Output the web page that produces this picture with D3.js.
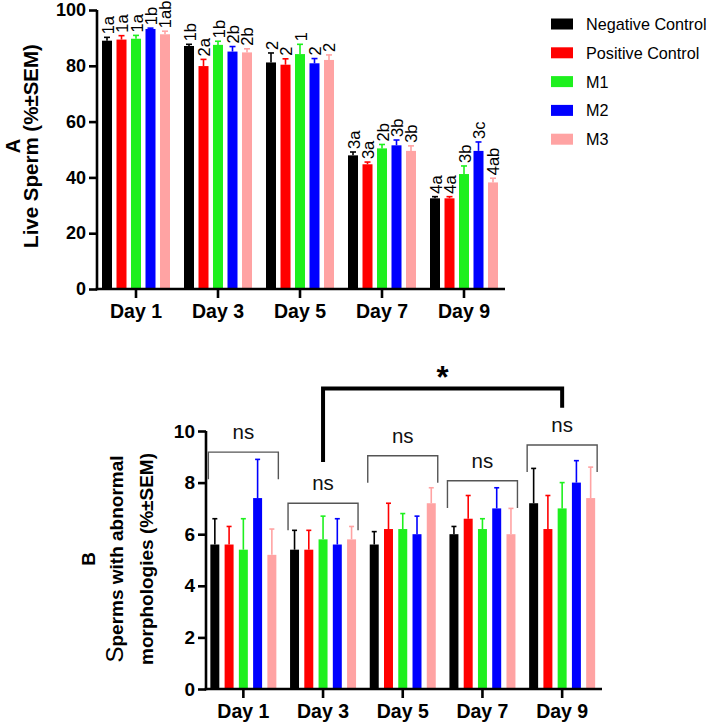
<!DOCTYPE html>
<html><head><meta charset="utf-8">
<script src="https://cdn.jsdelivr.net/npm/d3@7"></script>
<style>
html,body{margin:0;padding:0;background:#fff;}
svg{display:block;font-family:"Liberation Sans",Arial,Helvetica,sans-serif;}
</style></head>
<body>
<svg id="chart" width="711" height="725"></svg>
<script>
// ---------- data ----------
const days = ["Day 1","Day 3","Day 5","Day 7","Day 9"];
const groups = ["Negative Control","Positive Control","M1","M2","M3"];
const colors = ["#000000","#ff0000","#1ef01e","#0000ff","#ffa3a3"];

// Live sperm (% ± SEM), one array per group, values per day
const liveNeg = [89.0, 87.1, 81.2, 47.9, 32.5];
const livePos = [89.4, 79.9, 80.4, 44.7, 32.5];
const liveM1  = [89.7, 87.5, 84.2, 50.4, 41.2];
const liveM2  = [93.2, 85.1, 80.9, 51.5, 49.5];
const liveM3  = [91.3, 84.8, 82.1, 49.5, 38.2];
const liveSemNeg = [1.2, 0.6, 3.4, 1.2, 0.6];
const liveSemPos = [1.4, 2.4, 2.1, 0.8, 0.6];
const liveSemM1  = [1.2, 1.3, 3.5, 1.4, 2.9];
const liveSemM2  = [0.3, 1.8, 1.7, 1.9, 3.2];
const liveSemM3  = [1.1, 1.3, 1.8, 1.8, 1.5];
const liveLblNeg = ["1a","1b","2","3a","4a"];
const liveLblPos = ["1a","2a","2","3a","4a"];
const liveLblM1  = ["1a","1b","1","2b","3b"];
const liveLblM2  = ["1b","2b","2","3b","3c"];
const liveLblM3  = ["1ab","2b","2","3b","4ab"];
const liveTicks = [0,20,40,60,80,100];

// Abnormal morphologies (% ± SEM)
const abnNeg = [5.6, 5.4, 5.6, 6.0, 7.2];
const abnPos = [5.6, 5.4, 6.2, 6.6, 6.2];
const abnM1  = [5.4, 5.8, 6.2, 6.2, 7.0];
const abnM2  = [7.4, 5.6, 6.0, 7.0, 8.0];
const abnM3  = [5.2, 5.8, 7.2, 6.0, 7.4];
const abnSemNeg = [1.0, 0.75, 0.5, 0.3, 1.35];
const abnSemPos = [0.7, 0.75, 1.0, 0.9, 1.3];
const abnSemM1  = [1.2, 0.9, 0.6, 0.4, 1.0];
const abnSemM2  = [1.5, 1.0, 0.7, 0.8, 0.85];
const abnSemM3  = [1.0, 0.5, 0.6, 1.0, 1.2];
const abnTicks = [0,2,4,6,8,10];
const nsLevel = [9.18, 7.2, 9.04, 8.07, 9.46];   // bracket level in y units
const nsLegDrop = 1.05;
const starFrom = "Day 3", starTo = "Day 9";
const starLevel = 11.65, starLeftEnd = 8.8, starRightEnd = 10.9;

const liveMeans = [liveNeg, livePos, liveM1, liveM2, liveM3];
const liveSems = [liveSemNeg, liveSemPos, liveSemM1, liveSemM2, liveSemM3];
const liveLbls = [liveLblNeg, liveLblPos, liveLblM1, liveLblM2, liveLblM3];
const abnMeans = [abnNeg, abnPos, abnM1, abnM2, abnM3];
const abnSems = [abnSemNeg, abnSemPos, abnSemM1, abnSemM2, abnSemM3];

const svg = d3.select("#chart");
const FONT = '"Liberation Sans",Arial,Helvetica,sans-serif';

function drawChart(cfg) {
  const g = svg.append("g");
  const x = d3.scaleBand().domain(days).range(cfg.xRange).paddingInner(0).paddingOuter(0);
  const xi = d3.scaleBand().domain(groups).range([-cfg.half, cfg.half]).paddingInner(cfg.innerPad).paddingOuter(0);
  const y = d3.scaleLinear().domain(cfg.yDomain).range(cfg.yRange);
  const cx = d => x(d) + x.bandwidth()/2;

  // bars
  groups.forEach((grp, gi) => {
    const gg = g.append("g");
    days.forEach((day, di) => {
      const v = cfg.means[gi][di], s = cfg.sems[gi][di];
      const bx = cx(day) + xi(grp);
      const bcx = bx + xi.bandwidth()/2;
      gg.append("rect").attr("x", bx).attr("y", y(v))
        .attr("width", xi.bandwidth()).attr("height", y(0) - y(v))
        .attr("fill", colors[gi]);
      gg.append("line").attr("x1", bcx).attr("x2", bcx).attr("y1", y(v)).attr("y2", y(v + s))
        .attr("stroke", colors[gi]).attr("stroke-width", 1.6);
      gg.append("line").attr("x1", bcx - cfg.cap/2).attr("x2", bcx + cfg.cap/2)
        .attr("y1", y(v + s)).attr("y2", y(v + s))
        .attr("stroke", colors[gi]).attr("stroke-width", 1.6);
      if (cfg.labels) {
        gg.append("text")
          .attr("transform", `translate(${bcx + 0.5},${y(v + s) - 3}) rotate(-90)`)
          .attr("text-anchor", "start").attr("dominant-baseline", "central")
          .attr("font-size", 16.5).attr("fill", "#000").text(cfg.labels[gi][di]);
      }
    });
  });

  // axes
  const yAxis = d3.axisLeft(y).tickValues(cfg.ticks).tickSize(8).tickPadding(3).tickSizeOuter(0);
  const ya = g.append("g").attr("transform", `translate(${cfg.yAxisX},0)`).call(yAxis);
  ya.select(".domain").remove();
  ya.append("line").attr("x1", 0).attr("x2", 0).attr("y1", y(cfg.yDomain[1])).attr("y2", y(0) + 1.25)
    .attr("stroke", "#000").attr("stroke-width", 2.6);
  ya.selectAll(".tick line").attr("stroke-width", 2.6);
  ya.selectAll(".tick text").attr("font-size", cfg.yTickFont).attr("font-weight", "bold")
    .attr("font-family", FONT).attr("fill", "#000");

  const xAxis = d3.axisBottom(x).tickSize(9).tickPadding(6).tickSizeOuter(0);
  const xa = g.append("g").attr("transform", `translate(0,${y(0)})`).call(xAxis);
  xa.select(".domain").remove();
  xa.append("line").attr("x1", cfg.yAxisX - 1.3).attr("x2", cfg.xRange[1]).attr("y1", 0).attr("y2", 0)
    .attr("stroke", "#000").attr("stroke-width", 2.6);
  xa.selectAll(".tick line").attr("stroke-width", 2.6);
  xa.selectAll(".tick text").attr("font-size", 19.5).attr("font-weight", "bold")
    .attr("font-family", FONT).attr("fill", "#000");

  return {x, y, cx, g};
}

// ---------- chart A ----------
const A = drawChart({
  xRange: [95, 505], half: 34, innerPad: 0.31, cap: 6,
  yDomain: [0, 100], yRange: [289, 10], yAxisX: 97, ticks: liveTicks, yTickFont: 18,
  means: liveMeans, sems: liveSems, labels: liveLbls
});
svg.append("text").attr("transform", "translate(38,146) rotate(-90)")
  .attr("text-anchor", "middle").attr("font-size", 20.5).attr("font-weight", "bold")
  .text("Live Sperm (%±SEM)");
svg.append("text").attr("transform", "translate(19.5,146) rotate(-90)")
  .attr("text-anchor", "middle").attr("font-size", 20).attr("font-weight", "bold").text("A");

// legend
const leg = svg.append("g");
groups.forEach((grp, i) => {
  const ly = 24 + i * 28.8;
  leg.append("rect").attr("x", 551).attr("y", ly - 5.5).attr("width", 22).attr("height", 11).attr("fill", colors[i]);
  leg.append("text").attr("x", 586).attr("y", ly).attr("dominant-baseline", "central")
    .attr("font-size", 16.2).attr("fill", "#000").text(grp);
});

// ---------- chart B ----------
const B = drawChart({
  xRange: [203.5, 602], half: 33, innerPad: 0.37, cap: 5,
  yDomain: [0, 10], yRange: [689, 431], yAxisX: 206, ticks: abnTicks, yTickFont: 19,
  means: abnMeans, sems: abnSems, labels: null
});

// ns brackets
days.forEach((day, di) => {
  const c = B.cx(day), l = c - 35, r = c + 35;
  const top = B.y(nsLevel[di]), bot = B.y(nsLevel[di] - nsLegDrop);
  svg.append("path").attr("d", `M${l},${bot}V${top}H${r}V${bot}`)
    .attr("fill", "none").attr("stroke", "#555").attr("stroke-width", 1.4);
  svg.append("text").attr("x", c).attr("y", top - 13).attr("text-anchor", "middle")
    .attr("font-size", 20.5).attr("fill", "#111").text("ns");
});
// significance bracket
{
  const l = B.cx(starFrom), r = B.cx(starTo), top = B.y(starLevel);
  svg.append("path").attr("d", `M${l},${B.y(starLeftEnd)}V${top}H${r}V${B.y(starRightEnd)}`)
    .attr("fill", "none").attr("stroke", "#000").attr("stroke-width", 4);
  svg.append("text").attr("x", (l + r)/2).attr("y", top - 0).attr("text-anchor", "middle")
    .attr("font-size", 31).attr("font-weight", "bold").text("*");
}

// B axis titles
const t1 = svg.append("text").attr("transform", "translate(123,559) rotate(-90)")
  .attr("text-anchor", "middle");
t1.append("tspan").attr("font-size", 24).attr("font-weight", "normal").text("S");
t1.append("tspan").attr("font-size", 19).attr("font-weight", "bold").text("perms with abnormal");
svg.append("text").attr("transform", "translate(153,559) rotate(-90)")
  .attr("text-anchor", "middle").attr("font-size", 19).attr("font-weight", "bold")
  .text("morphologies (%±SEM)");
svg.append("text").attr("transform", "translate(95,559) rotate(-90)")
  .attr("text-anchor", "middle").attr("font-size", 19).attr("font-weight", "bold").text("B");
</script>
</body></html>
